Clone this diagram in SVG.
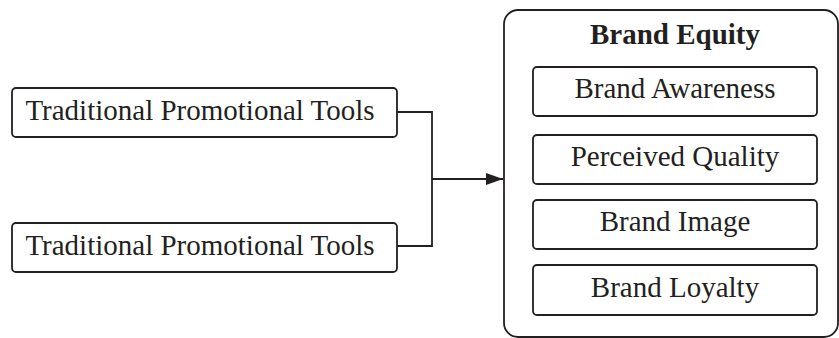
<svg xmlns="http://www.w3.org/2000/svg" width="839" height="338" viewBox="0 0 839 338">
<style>
.box{fill:#fff;stroke:#231f20;stroke-width:1.8}
.t{font-family:"Liberation Serif","Times New Roman",serif;font-size:29px;fill:#231f20;text-anchor:middle}
.b{font-weight:bold}
.c{fill:none;stroke:#231f20;stroke-width:1.8}
</style>
<defs>
<marker id="ah" markerWidth="17" markerHeight="12" refX="17" refY="6" orient="auto" markerUnits="userSpaceOnUse">
<path d="M0,0 L17,6 L0,12 Z" fill="#231f20"/>
</marker>
</defs>
<g id="connectors">
<polyline class="c" points="397,112 432,112 432,246 397,246"/>
<line class="c" x1="432" y1="179" x2="503" y2="179" marker-end="url(#ah)"/>
</g>
<g id="tools1">
<rect class="box" x="12" y="88" width="385" height="49" rx="4"/>
<text class="t" x="200" y="120">Traditional Promotional Tools</text>
</g>
<g id="tools2">
<rect class="box" x="12" y="223" width="385" height="49" rx="4"/>
<text class="t" x="200" y="255">Traditional Promotional Tools</text>
</g>
<g id="brand-equity">
<rect class="box" x="504" y="10" width="334" height="327" rx="14"/>
<text class="t b" x="675" y="44">Brand Equity</text>
</g>
<g id="awareness">
<rect class="box" x="533" y="67" width="284" height="49" rx="4"/>
<text class="t" x="675" y="98">Brand Awareness</text>
</g>
<g id="quality">
<rect class="box" x="533" y="135" width="284" height="49" rx="4"/>
<text class="t" x="675" y="166">Perceived Quality</text>
</g>
<g id="image">
<rect class="box" x="533" y="200" width="284" height="49" rx="4"/>
<text class="t" x="675" y="231">Brand Image</text>
</g>
<g id="loyalty">
<rect class="box" x="533" y="265" width="284" height="50" rx="4"/>
<text class="t" x="675" y="297">Brand Loyalty</text>
</g>
</svg>
